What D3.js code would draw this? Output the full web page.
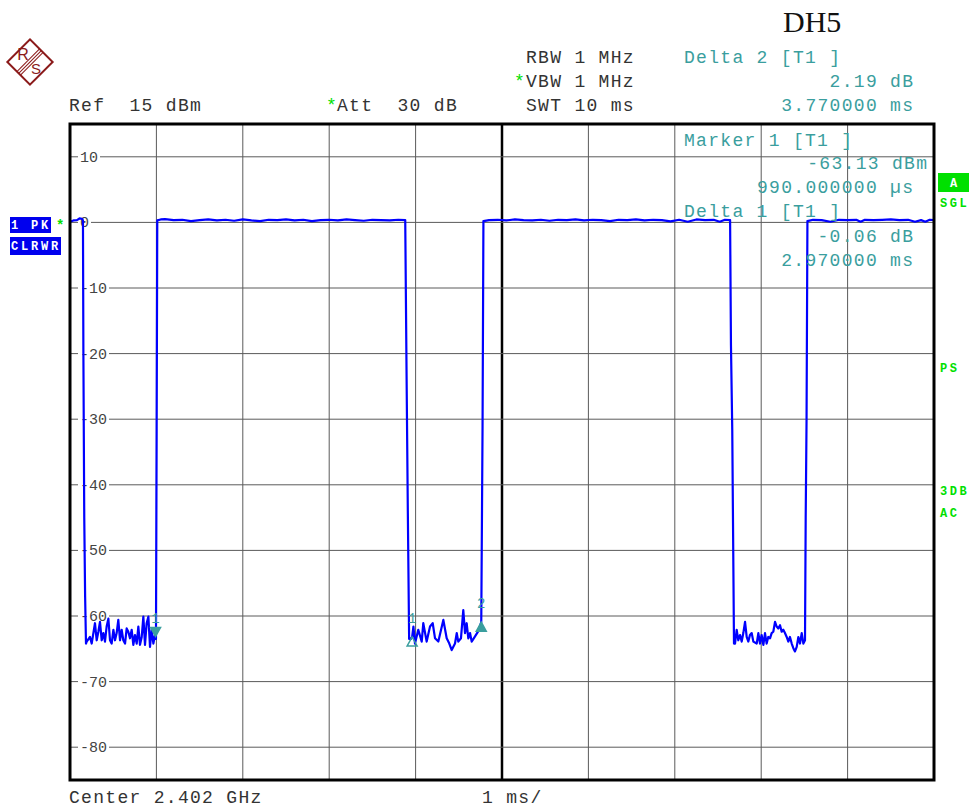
<!DOCTYPE html>
<html>
<head>
<meta charset="utf-8">
<script src="https://cdn.jsdelivr.net/npm/d3@7"></script>
<style>
body { margin: 0; background: #fff; }
svg text { font-family: "Liberation Mono", "DejaVu Sans Mono", monospace; white-space: pre; }
</style>
</head>
<body>
<svg id="chart" width="973" height="809"></svg>
<script>
// Spectrum analyser zero-span screen (DH5 burst)
// time in ms, level in dBm

const levelTicks = [10, 0, -10, -20, -30, -40, -50, -60, -70, -80];
const timeDivs = [1, 2, 3, 4, 5, 6, 7, 8, 9];

// trace pieces [ms, dBm]
const onA = [[0, 0.1], [0.04, 0.3], [0.08, 0.35], [0.11, 0.6], [0.14, 0.55], [0.15, 0.3]];
const fallA = [[0.155, -20], [0.165, -45], [0.175, -57], [0.185, -64.2]];
const offA = [[0.193, -63.9], [0.231, -63.2], [0.251, -64.2], [0.289, -61.1], [0.309, -63.7], [0.328, -62.4],
  [0.347, -60.9], [0.367, -63.7], [0.386, -62.6], [0.405, -63.9], [0.424, -61.6], [0.444, -60.4],
  [0.463, -63.7], [0.482, -64.2], [0.502, -62.1], [0.521, -63.7], [0.540, -62.6], [0.559, -60.6],
  [0.579, -63.7], [0.598, -62.1], [0.617, -63.7], [0.637, -64.2], [0.656, -61.9], [0.675, -62.4],
  [0.694, -63.4], [0.714, -62.1], [0.733, -64.4], [0.752, -62.9], [0.772, -64.2], [0.791, -61.6],
  [0.810, -64.4], [0.830, -63.2], [0.849, -60.1], [0.868, -64.4], [0.887, -61.1], [0.907, -60.1],
  [0.926, -64.7], [0.945, -62.1], [0.965, -64.2], [0.984, -62.9], [0.99, -63.13]];
const riseA = [[0.995, -63.5], [1.003, -31.5], [1.01, 0.3]];
const onB = [[1.05, 0.45], [1.1, 0.5], [1.2, 0.35], [1.3, 0.4], [1.4, 0.2], [1.5, 0.35], [1.6, 0.45],
  [1.7, 0.3], [1.8, 0.4], [1.9, 0.25], [2.0, 0.45], [2.1, 0.3], [2.2, 0.2], [2.3, 0.4], [2.4, 0.35],
  [2.5, 0.45], [2.6, 0.3], [2.7, 0.4], [2.8, 0.2], [2.9, 0.35], [3.0, 0.4], [3.1, 0.3], [3.2, 0.45],
  [3.3, 0.35], [3.4, 0.25], [3.5, 0.4], [3.6, 0.35], [3.7, 0.3], [3.8, 0.4], [3.88, 0.35]];
const fallB = [[3.895, -22.5], [3.91, -44], [3.925, -63.5]];
const offB = [[3.945, -63.5], [3.96, -63.19], [3.975, -61.6], [3.993, -64.2], [4.031, -62.1], [4.071, -63.9],
  [4.089, -61.1], [4.128, -63.9], [4.167, -61.6], [4.198, -61.1], [4.225, -63.4], [4.263, -63.9],
  [4.321, -60.6], [4.360, -63.4], [4.390, -64.2], [4.418, -65.2], [4.456, -64.2], [4.476, -62.6],
  [4.494, -63.9], [4.525, -63.4], [4.552, -59.1], [4.572, -62.6], [4.591, -61.1], [4.610, -63.4],
  [4.630, -62.6], [4.649, -63.9], [4.688, -63.1], [4.726, -62.3], [4.76, -60.94]];
const riseB = [[4.768, -45], [4.775, -31], [4.785, 0.2]];
const onC = [[4.85, 0.35], [4.95, 0.4], [5.05, 0.3], [5.15, 0.45], [5.25, 0.35], [5.35, 0.3], [5.45, 0.4],
  [5.55, 0.25], [5.65, 0.4], [5.75, 0.35], [5.85, 0.45], [5.95, 0.3], [6.05, 0.4], [6.15, 0.35],
  [6.25, 0.2], [6.35, 0.4], [6.45, 0.35], [6.55, 0.45], [6.65, 0.3], [6.75, 0.4], [6.85, 0.35],
  [6.95, 0.15], [7.05, 0.4], [7.15, 0.1], [7.25, 0.45], [7.35, 0.35], [7.45, 0.4], [7.52, 0.1],
  [7.58, 0.4], [7.64, 0.35]];
const fallC = [[7.65, -18.7], [7.665, -31.6], [7.685, -64.2]];
const offC = [[7.697, -64.2], [7.716, -62.1], [7.735, -63.7], [7.755, -62.9], [7.774, -63.9], [7.793, -62.6],
  [7.813, -60.9], [7.832, -63.2], [7.851, -63.9], [7.870, -62.9], [7.890, -62.6], [7.909, -63.9],
  [7.948, -64.2], [7.967, -62.6], [7.986, -64.2], [8.005, -62.9], [8.025, -64.4], [8.044, -62.6],
  [8.063, -64.2], [8.082, -63.2], [8.102, -63.4], [8.121, -62.6], [8.140, -62.4], [8.160, -60.9],
  [8.179, -61.6], [8.198, -61.9], [8.218, -61.4], [8.237, -62.4], [8.256, -62.1], [8.275, -62.6],
  [8.295, -63.2], [8.314, -63.9], [8.333, -63.2], [8.353, -64.2], [8.372, -64.9], [8.391, -65.4],
  [8.411, -64.7], [8.430, -63.2], [8.449, -64.2], [8.469, -62.6], [8.488, -64.2], [8.507, -63.7]];
const riseC = [[8.515, -45], [8.525, -30], [8.535, 0.2]];
const onD = [[8.6, 0.4], [8.7, 0.35], [8.8, 0.1], [8.9, 0.4], [9.0, 0.35], [9.1, 0.4], [9.15, 0.1],
  [9.2, 0.4], [9.3, 0.35], [9.4, 0.4], [9.5, 0.45], [9.6, 0.35], [9.7, 0.4], [9.78, 0.1],
  [9.85, 0.35], [9.9, 0.1], [9.95, 0.4], [10, 0.35]];

// markers: normal marker points down, delta markers point up
const markerTimes = [0.99, 3.96, 4.76];
const markerLevels = [-63.13, -63.19, -60.94];
const markerNames = ["1", "1", "2"];
const markerKinds = ["down", "upOpen", "up"];

// readouts
const headerLeft = [["Ref  15 dBm", 69, 111]];
const headerMid = [["RBW 1 MHz", 526, 63], ["VBW 1 MHz", 526, 87], ["SWT 10 ms", 526, 111]];
const readLeft = [["Delta 2 [T1 ]", 684, 63], ["Marker 1 [T1 ]", 684, 146], ["Delta 1 [T1 ]", 684, 217]];
const readRight = [["2.19 dB", 913, 87], ["3.770000 ms", 913, 111], ["-63.13 dBm", 927, 169],
  ["990.000000 µs", 913, 193], ["-0.06 dB", 913, 242], ["2.970000 ms", 913, 266]];
const sideLabels = [["SGL", 207], ["PS", 372], ["3DB", 495], ["AC", 517]];

const TEAL = "#3a9e9e";
const GREEN = "#00e000";
const L = 70, R = 934, T = 124, B = 780;

const svg = d3.select("#chart");
const x = d3.scaleLinear().domain([0, 10]).range([L, R]);
const y = d3.scaleLinear().domain([-85, 15]).range([B, T]);

// grid
const grid = svg.append("g");
grid.selectAll(".v").data(timeDivs).join("line")
  .attr("x1", d => x(d)).attr("x2", d => x(d)).attr("y1", T).attr("y2", B)
  .attr("stroke", d => d === 5 ? "#000" : "#5a5a5a")
  .attr("stroke-width", d => d === 5 ? 2.5 : 1);
grid.selectAll(".h").data(levelTicks).join("line")
  .attr("x1", L).attr("x2", R).attr("y1", d => y(d)).attr("y2", d => y(d))
  .attr("stroke", "#5a5a5a").attr("stroke-width", 1);

// level labels sit in a gap of the grid line
const lab = svg.append("g");
lab.selectAll("rect").data(levelTicks).join("rect")
  .attr("x", 78).attr("y", d => y(d) - 7)
  .attr("width", d => String(d).length * 9 + 4).attr("height", 14)
  .attr("fill", "#fff");
lab.selectAll("text").data(levelTicks).join("text")
  .attr("x", 80).attr("y", d => y(d) + 5)
  .attr("font-size", "15px").attr("fill", "#444")
  .text(d => d);

// trace
const trace = [].concat(onA, fallA, offA, riseA, onB, fallB, offB, riseB, onC, fallC, offC, riseC, onD);
const line = d3.line().x(d => x(d[0])).y(d => y(d[1]));
svg.append("path").datum(trace)
  .attr("d", line).attr("fill", "none")
  .attr("stroke", "#0000ff").attr("stroke-width", 2.2).attr("stroke-linejoin", "round");

// frame
svg.append("rect").attr("x", L).attr("y", T).attr("width", R - L).attr("height", B - T)
  .attr("fill", "none").attr("stroke", "#000").attr("stroke-width", 3);

// markers
const mk = svg.append("g");
markerTimes.forEach((t, i) => {
  const px = x(t), py = y(markerLevels[i]);
  let pts;
  if (markerKinds[i] === "down") {
    pts = [[px - 5, py - 9], [px + 5, py - 9], [px, py]];
  } else {
    pts = [[px, py], [px - 5, py + 9], [px + 5, py + 9]];
  }
  mk.append("path")
    .attr("d", "M" + pts.join("L") + "Z")
    .attr("fill", markerKinds[i] === "upOpen" ? "none" : TEAL)
    .attr("stroke", TEAL).attr("stroke-width", 1.5);
  mk.append("text").attr("x", px).attr("y", py - 14)
    .attr("text-anchor", "middle").attr("font-size", "14px").attr("fill", TEAL)
    .text(markerNames[i]);
});

// header text
const hdr = svg.append("g").attr("font-size", "18px").attr("letter-spacing", "1.3px");
hdr.selectAll(".hl").data(headerLeft.concat(headerMid)).join("text")
  .attr("x", d => d[1]).attr("y", d => d[2]).attr("fill", "#333").text(d => d[0]);
hdr.append("text").attr("x", 326).attr("y", 111).attr("fill", GREEN).text("*");
hdr.append("text").attr("x", 337).attr("y", 111).attr("fill", "#333").text("Att  30 dB");
hdr.append("text").attr("x", 514).attr("y", 87).attr("fill", GREEN).text("*");
hdr.selectAll(".rl").data(readLeft).join("text")
  .attr("x", d => d[1]).attr("y", d => d[2]).attr("fill", TEAL).text(d => d[0]);
hdr.selectAll(".rr").data(readRight).join("text")
  .attr("x", d => d[1] + 1.3).attr("y", d => d[2]).attr("text-anchor", "end")
  .attr("fill", TEAL).text(d => d[0]);

// DH5 title
svg.append("text").attr("x", 783).attr("y", 32)
  .style("font-family", "'Liberation Serif', 'Times New Roman', serif")
  .attr("font-size", "30px").attr("fill", "#111").text("DH5");

// trace info boxes on the left
const info = svg.append("g").attr("font-size", "12px").attr("font-weight", "bold").attr("letter-spacing", "2.8px");
info.append("rect").attr("x", 10).attr("y", 217).attr("width", 41).attr("height", 16).attr("fill", "#0000ee");
info.append("text").attr("x", 11).attr("y", 229).attr("fill", "#fff").text("1 PK");
info.append("rect").attr("x", 10).attr("y", 237).attr("width", 51).attr("height", 18).attr("fill", "#0000ee");
info.append("text").attr("x", 11).attr("y", 250).attr("fill", "#fff").text("CLRWR");
info.append("text").attr("x", 56).attr("y", 230).attr("font-size", "14px").attr("fill", GREEN).text("*");

// side status on the right
const side = svg.append("g").attr("font-size", "12px").attr("font-weight", "bold").attr("letter-spacing", "2.6px");
side.append("rect").attr("x", 938).attr("y", 173).attr("width", 31).attr("height", 19).attr("fill", GREEN);
side.append("text").attr("x", 955).attr("y", 187).attr("text-anchor", "middle").attr("fill", "#fff").text("A");
side.selectAll(".s").data(sideLabels).join("text")
  .attr("x", 940).attr("y", d => d[1]).attr("fill", GREEN).text(d => d[0]);

// R&S logo
const logo = svg.append("g").attr("stroke", "#8b1a1a").attr("fill", "none");
const lg = logo.append("g").attr("transform", "translate(30,62) rotate(45)");
lg.append("rect").attr("x", -16).attr("y", -16).attr("width", 32).attr("height", 32).attr("stroke-width", 2);
[-2.5, 0, 2.5].forEach(o => {
  lg.append("line").attr("x1", o).attr("x2", o).attr("y1", -16).attr("y2", 16).attr("stroke-width", 1);
});
logo.append("text").attr("x", 23).attr("y", 60).attr("text-anchor", "middle")
  .style("font-family", "'Liberation Sans', Arial, sans-serif").attr("font-size", "16px")
  .attr("fill", "#8b1a1a").attr("stroke", "none").text("R");
logo.append("text").attr("x", 36).attr("y", 74).attr("text-anchor", "middle")
  .style("font-family", "'Liberation Sans', Arial, sans-serif").attr("font-size", "15px")
  .attr("fill", "#8b1a1a").attr("stroke", "none").text("S");

// bottom line
const foot = svg.append("g").attr("font-size", "18px").attr("letter-spacing", "1.3px").attr("fill", "#333");
foot.append("text").attr("x", 69).attr("y", 803).text("Center 2.402 GHz");
foot.append("text").attr("x", 482).attr("y", 803).text("1 ms/");
</script>
</body>
</html>
